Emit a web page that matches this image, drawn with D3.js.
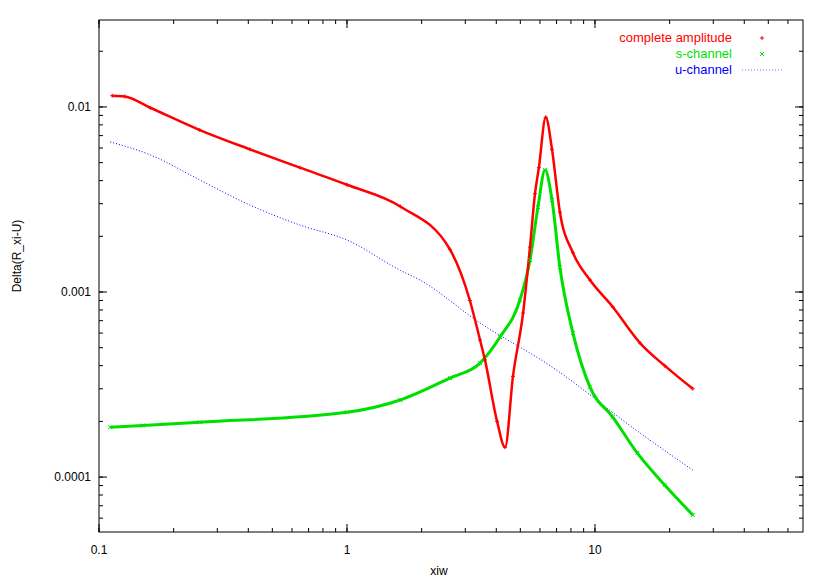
<!DOCTYPE html>
<html>
<head>
<meta charset="utf-8">
<script src="https://cdn.jsdelivr.net/npm/d3@7"></script>
<style>
  body { margin: 0; background: #fff; }
  text { font-family: "Liberation Sans", Arial, sans-serif; font-size: 12px; }
</style>
</head>
<body>
<div id="chart"></div>
<script>
// values: [xiw, Delta]
const complete = [
  [0.113, 0.0115], [0.127, 0.0114], [0.161, 0.0099], [0.255, 0.0075], [0.406, 0.0059],
  [0.646, 0.0047], [1, 0.0038], [1.64, 0.0029], [2.60, 0.0017], [3.13, 0.0009],
  [3.44, 0.00055], [3.60, 0.00043], [4.03, 0.00020], [4.34, 0.000145], [4.67, 0.00035], [5.13, 0.00077],
  [5.47, 0.00175], [5.73, 0.0034], [5.94, 0.0047], [6.33, 0.0088], [6.71, 0.0059],
  [7.22, 0.0027], [8.15, 0.00163], [9.55, 0.00116], [11.8, 0.00083], [15.2, 0.00053],
  [19.1, 0.00040], [24.8, 0.00030]
];
const sChannel = [
  [0.111, 0.000186], [0.15, 0.00019], [0.255, 0.000198], [1, 0.000224], [1.64, 0.000261],
  [2.60, 0.000343], [3.44, 0.000413], [4.14, 0.000571], [4.98, 0.000905], [5.47, 0.00149],
  [5.89, 0.00288], [6.29, 0.00456], [6.71, 0.00314], [7.22, 0.00136], [8.15, 0.00060],
  [9.55, 0.000306], [11.8, 0.000211], [14.8, 0.000135], [19.1, 0.0000906], [24.8, 0.0000624]
];
const uChannel = [
  [0.111, 0.00647], [0.161, 0.00551], [0.255, 0.00403], [0.406, 0.00295], [0.646, 0.00230],
  [1, 0.00191], [1.64, 0.00131], [1.97, 0.00116], [3.44, 0.00068], [6.59, 0.00040],
  [15.2, 0.000173], [24.8, 0.000109]
];
const xTicks = [0.1, 1, 10];
const yTicks = [0.0001, 0.001, 0.01];
const legendNames = ["complete amplitude", "s-channel", "u-channel"];

const W = 830, H = 581;
const margin = { top: 20, right: 27, bottom: 49, left: 99 };
const innerW = W - margin.left - margin.right;
const innerH = H - margin.top - margin.bottom;

const svg = d3.select("#chart").append("svg").attr("width", W).attr("height", H);
const g = svg.append("g").attr("transform", `translate(${margin.left},${margin.top})`);

const x = d3.scaleLog().domain([0.1, 69]).range([0, innerW]);
const y = d3.scaleLog().domain([5.05e-5, 0.0295]).range([innerH, 0]);

// minor ticks inside frame
const minorX = [], minorY = [];
[0.1, 1, 10].forEach(d => { for (let k = 1; k < 10; k++) if (d * k <= 69) minorX.push(d * k); });
[0.00001, 0.0001, 0.001, 0.01].forEach(d => { for (let k = 1; k < 10; k++) { const v = d * k; if (v >= 5.05e-5 && v <= 0.0295) minorY.push(v); } });

function tickLines(vals, isX, major) {
  const len = major ? 8 : 4;
  vals.forEach(v => {
    if (isX) {
      const px = x(v);
      g.append("line").attr("x1", px).attr("x2", px).attr("y1", innerH).attr("y2", innerH - len).attr("stroke", "#000");
      g.append("line").attr("x1", px).attr("x2", px).attr("y1", 0).attr("y2", len).attr("stroke", "#000");
    } else {
      const py = y(v);
      g.append("line").attr("y1", py).attr("y2", py).attr("x1", 0).attr("x2", len).attr("stroke", "#000");
      g.append("line").attr("y1", py).attr("y2", py).attr("x1", innerW).attr("x2", innerW - len).attr("stroke", "#000");
    }
  });
}
tickLines(minorX, true, false);
tickLines(xTicks, true, true);
tickLines(minorY, false, false);
tickLines(yTicks, false, true);

xTicks.forEach(v => g.append("text").attr("x", x(v)).attr("y", innerH + 22).attr("text-anchor", "middle").text(String(v)));
yTicks.forEach(v => g.append("text").attr("x", -8).attr("y", y(v) + 4).attr("text-anchor", "end").text(String(v)));

g.append("rect").attr("width", innerW).attr("height", innerH).attr("fill", "none").attr("stroke", "#000");

svg.append("text").attr("x", margin.left + innerW / 2 - 12).attr("y", H - 6).attr("text-anchor", "middle").text("xiw");
svg.append("text").attr("transform", "rotate(-90)").attr("x", -(margin.top + innerH / 2 - 20)).attr("y", 21)
  .attr("text-anchor", "middle").text("Delta(R_xi-U)");

const line = d3.line().x(d => x(d[0])).y(d => y(d[1])).curve(d3.curveMonotoneX);

// series
g.append("path").datum(uChannel).attr("d", line).attr("fill", "none").attr("stroke", "#0000ff")
  .attr("stroke-width", 1).attr("stroke-dasharray", "1,2");
g.append("path").datum(sChannel).attr("d", line).attr("fill", "none").attr("stroke", "#00e000").attr("stroke-width", 3);
g.append("path").datum(complete).attr("d", line).attr("fill", "none").attr("stroke", "#ff0000").attr("stroke-width", 2.5);

function plus(sel, cx, cy, c) {
  sel.append("path").attr("d", `M${cx - 2},${cy}H${cx + 2}M${cx},${cy - 2}V${cy + 2}`).attr("stroke", c).attr("stroke-width", 1);
}
function cross(sel, cx, cy, c) {
  sel.append("path").attr("d", `M${cx - 2},${cy - 2}L${cx + 2},${cy + 2}M${cx - 2},${cy + 2}L${cx + 2},${cy - 2}`).attr("stroke", c).attr("stroke-width", 1);
}
sChannel.forEach(d => cross(g, x(d[0]), y(d[1]), "#00e000"));
complete.forEach(d => plus(g, x(d[0]), y(d[1]), "#ff0000"));

// legend
const colors = ["#ff0000", "#00e000", "#0000ff"];
legendNames.forEach((n, i) => {
  const ly = 38 + i * 16;
  svg.append("text").attr("x", 732).attr("y", ly + 4).attr("text-anchor", "end").attr("fill", colors[i]).style("font-size", "13px").text(n);
  if (i === 0) plus(svg, 762, ly, colors[i]);
  else if (i === 1) cross(svg, 762, ly, colors[i]);
  else svg.append("line").attr("x1", 742).attr("x2", 783).attr("y1", ly).attr("y2", ly)
    .attr("stroke", colors[i]).attr("stroke-dasharray", "1,2").attr("opacity", 0.5);
});
</script>
</body>
</html>
